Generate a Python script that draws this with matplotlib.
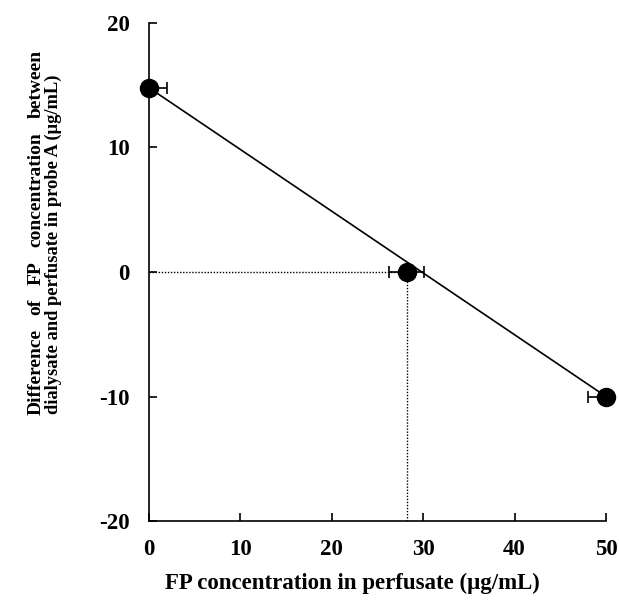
import matplotlib
matplotlib.use("Agg")
import matplotlib.pyplot as plt

# data
x_vals = [0.0, 28.2, 50.0]
y_vals = [14.8, 0.0, -10.0]
xerr_lo = [0.0, 1.9, 2.0]
xerr_hi = [2.0, 1.9, 0.0]
line_x = [0.0, 50.0]
line_y = [14.8, -10.0]
x_intercept = 28.2
x_ticks = [0, 10, 20, 30, 40, 50]
y_ticks = [-20, -10, 0, 10, 20]
xlabel = "FP concentration in perfusate (μg/mL)"
ylabel1_words = ["Difference", "of", "FP", "concentration", "between"]
ylabel2 = "dialysate and perfusate in probe A (μg/mL)"

plt.rcParams['font.family'] = ['Liberation Serif', 'DejaVu Serif']
plt.rcParams['font.weight'] = 'bold'
plt.rcParams['axes.unicode_minus'] = False

fig = plt.figure(figsize=(6.19, 6.05), dpi=100)
ax = fig.add_axes([0.2407, 0.1388, 0.979 - 0.2407, 0.962 - 0.1388])

ax.plot(line_x, line_y, color='black', lw=1.2, zorder=2)
ax.plot([0, x_intercept], [0, 0], color='black', lw=1.0, ls=(0, (1, 1.2)), zorder=1)
ax.plot([x_intercept, x_intercept], [-20, 0], color='black', lw=1.0, ls=(0, (1, 1.2)), zorder=1)
ax.errorbar(x_vals, y_vals, xerr=[xerr_lo, xerr_hi], fmt='o', color='black',
            ms=13, elinewidth=1.2, capsize=4, capthick=1.2, zorder=3, clip_on=False)

ax.set_xlim(0, 50)
ax.set_ylim(-20, 20)
ax.set_xticks(x_ticks)
ax.set_yticks(y_ticks)
ax.tick_params(direction='in', length=6, width=1.2, labelsize=16.5)
ax.tick_params(axis='x', pad=13)
ax.tick_params(axis='y', pad=14)
for lab in ax.get_xticklabels() + ax.get_yticklabels():
    lab.set_fontweight('bold')
for s in ['top', 'right']:
    ax.spines[s].set_visible(False)
for s in ['left', 'bottom']:
    ax.spines[s].set_linewidth(1.2)

fig.text(352 / 619, 1 - 583 / 605, xlabel, fontsize=16.5, fontweight='bold',
         ha='center', va='center')

# y label line 2
fig.text(53 / 619, 1 - 244 / 605, ylabel2, rotation=90, fontsize=13.3, fontweight='bold',
         ha='center', va='center')

# y label line 1, justified between two pixel extents
top_px, bot_px = 50, 415
fig.canvas.draw()
r = fig.canvas.get_renderer()
texts = []
heights = []
for w in ylabel1_words:
    t = fig.text(36 / 619, 0.5, w, rotation=90, fontsize=14, fontweight='bold',
                 ha='center', va='bottom')
    bb = t.get_window_extent(renderer=r)
    texts.append(t)
    heights.append(bb.height)
total = sum(heights)
H = fig.bbox.height
span = (bot_px - top_px)
gap = (span - total) / (len(ylabel1_words) - 1)
ypos = H - bot_px
for t, h in zip(texts, heights):
    t.set_position((36 / 619, ypos / H))
    ypos += h + gap

fig.savefig("out.png", dpi=100)
